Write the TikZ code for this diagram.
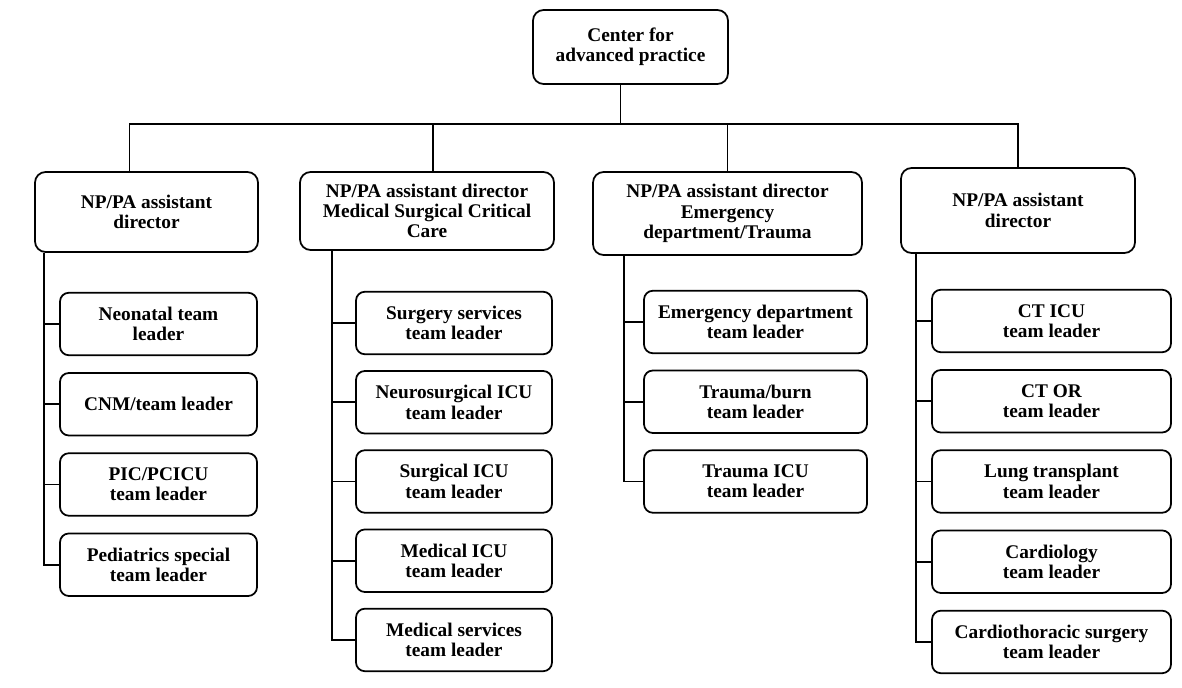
\documentclass[tikz,border=0pt]{standalone}
\usepackage{fontspec}
\setmainfont{Liberation Serif}
\usetikzlibrary{positioning}

\begin{document}
\begin{tikzpicture}[
  x=0.02cm, y=-0.02cm,
  box/.style={draw, line width=1pt, rounded corners=6pt, align=center, font=\fontsize{11}{11.6}\selectfont\bfseries, inner sep=2pt},
  lead/.style={box, minimum height=1.25cm, rounded corners=5pt},
  link/.style={line width=1pt}
]
\useasboundingbox (0,0) rectangle (1182,688);
\node[box, minimum width=3.9cm, minimum height=1.48cm] (cap) at (630.5,47) {Center for\\advanced practice};
\node[box, minimum width=4.46cm, minimum height=1.6cm] (d1) at (146.5,212) {NP/PA assistant\\director};
\node[box, minimum width=5.08cm, minimum height=1.56cm] (d2) at (427,211) {NP/PA assistant director\\Medical Surgical Critical\\Care};
\node[box, minimum width=5.38cm, minimum height=1.66cm] (d3) at (727.5,213.5) {NP/PA assistant director\\Emergency\\department/Trauma};
\node[box, minimum width=4.68cm, minimum height=1.7cm] (d4) at (1018,210.5) {NP/PA assistant\\director};

\node[lead, minimum width=3.94cm] (n1) at (158.5,324) {Neonatal team\\leader};
\node[lead, minimum width=3.94cm, below=0.32cm of n1] (n2) {CNM/team leader};
\node[lead, minimum width=3.94cm, below=0.32cm of n2] (n3) {PIC/PCICU\\team leader};
\node[lead, minimum width=3.94cm, below=0.32cm of n3] (n4) {Pediatrics special\\team leader};

\node[lead, minimum width=3.92cm] (m1) at (454,323) {Surgery services\\team leader};
\node[lead, minimum width=3.92cm, below=0.30cm of m1] (m2) {Neurosurgical ICU\\team leader};
\node[lead, minimum width=3.92cm, below=0.30cm of m2] (m3) {Surgical ICU\\team leader};
\node[lead, minimum width=3.92cm, below=0.30cm of m3] (m4) {Medical ICU\\team leader};
\node[lead, minimum width=3.92cm, below=0.30cm of m4] (m5) {Medical services\\team leader};

\node[lead, minimum width=4.46cm] (e1) at (755.5,322) {Emergency department\\team leader};
\node[lead, minimum width=4.46cm, below=0.31cm of e1] (e2) {Trauma/burn\\team leader};
\node[lead, minimum width=4.46cm, below=0.31cm of e2] (e3) {Trauma ICU\\team leader};

\node[lead, minimum width=4.78cm] (t1) at (1051.5,321) {CT ICU\\team leader};
\node[lead, minimum width=4.78cm, below=0.32cm of t1] (t2) {CT OR\\team leader};
\node[lead, minimum width=4.78cm, below=0.32cm of t2] (t3) {Lung transplant\\team leader};
\node[lead, minimum width=4.78cm, below=0.32cm of t3] (t4) {Cardiology\\team leader};
\node[lead, minimum width=4.78cm, below=0.32cm of t4] (t5) {Cardiothoracic surgery\\team leader};

\coordinate (bar) at (630,124);
\draw[link] ([xshift=-0.2cm]cap.south) -- ([xshift=-0.2cm]cap.south |- bar);
\draw[link] ([xshift=-0.34cm]d1.north) |- (d4.north |- bar) -- (d4.north);
\draw[link] ([xshift=0.12cm]d2.north) -- ([xshift=0.12cm]d2.north |- bar);
\draw[link] (d3.north) -- (d3.north |- bar);

\coordinate (s1) at ([xshift=0.2cm]d1.south west);
\coordinate (s2) at ([xshift=0.66cm]d2.south west);
\coordinate (s3) at ([xshift=0.64cm]d3.south west);
\coordinate (s4) at ([xshift=0.32cm]d4.south west);
\foreach \k in {n1,n2,n3,n4} \draw[link] (s1) |- (\k.west);
\foreach \k in {m1,m2,m3,m4,m5} \draw[link] (s2) |- (\k.west);
\foreach \k in {e1,e2,e3} \draw[link] (s3) |- (\k.west);
\foreach \k in {t1,t2,t3,t4,t5} \draw[link] (s4) |- (\k.west);
\end{tikzpicture}
\end{document}
